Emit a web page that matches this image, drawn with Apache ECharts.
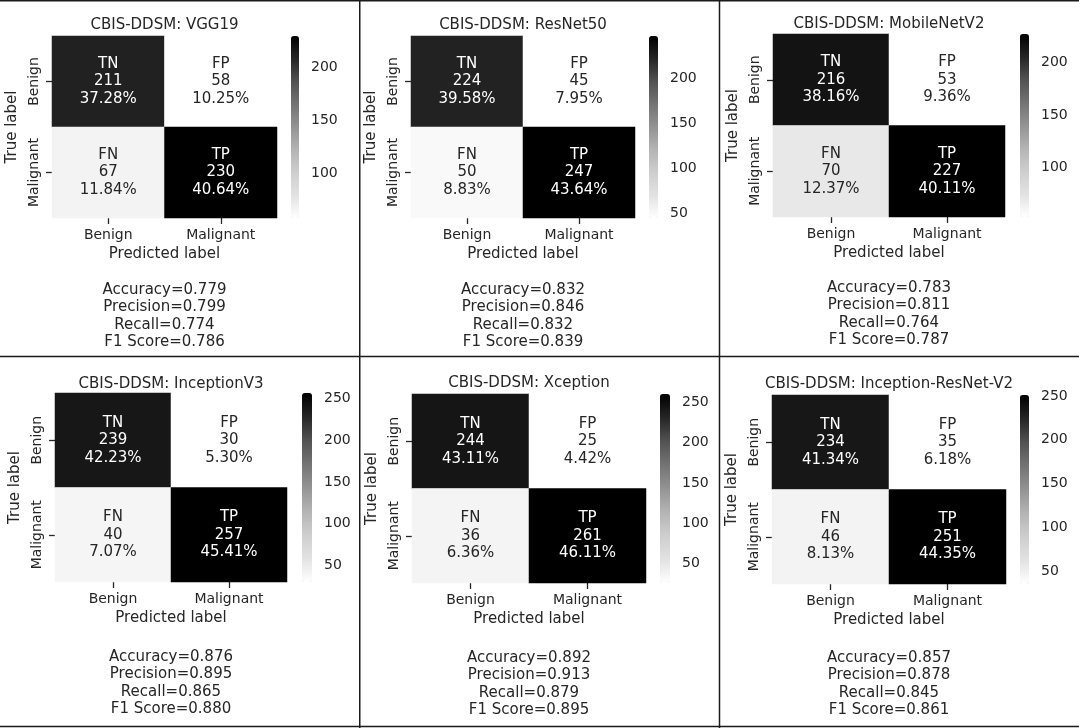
<!DOCTYPE html>
<html>
<head>
<meta charset="utf-8">
<title>CBIS-DDSM confusion matrices</title>
<script src="https://cdn.jsdelivr.net/npm/echarts@6/dist/echarts.min.js"></script>
<style>
  html, body { margin: 0; padding: 0; background: #fff; }
  #chart { width: 1079px; height: 728px; }
</style>
</head>
<body>
<div id="chart"></div>
<script>
// ---- data ----
const models = ['VGG19', 'ResNet50', 'MobileNetV2', 'InceptionV3', 'Xception', 'Inception-ResNet-V2']
const xLabels = ['Benign', 'Malignant']
const yLabels = ['Benign', 'Malignant']

const tn = [211, 224, 216, 239, 244, 234]
const fp = [58, 45, 53, 30, 25, 35]
const fn = [67, 50, 70, 40, 36, 46]
const tp = [230, 247, 227, 257, 261, 251]

const tnPct = ['37.28', '39.58', '38.16', '42.23', '43.11', '41.34']
const fpPct = ['10.25', '7.95', '9.36', '5.30', '4.42', '6.18']
const fnPct = ['11.84', '8.83', '12.37', '7.07', '6.36', '8.13']
const tpPct = ['40.64', '43.64', '40.11', '45.41', '46.11', '44.35']

const accuracy = [0.779, 0.832, 0.783, 0.876, 0.892, 0.857]
const precision = [0.799, 0.846, 0.811, 0.895, 0.913, 0.878]
const recall = [0.774, 0.832, 0.764, 0.865, 0.879, 0.845]
const f1 = [0.786, 0.839, 0.787, 0.880, 0.895, 0.861]

const cbTicks = [
  [100, 150, 200],
  [50, 100, 150, 200],
  [100, 150, 200],
  [50, 100, 150, 200, 250],
  [50, 100, 150, 200, 250],
  [50, 100, 150, 200, 250]
]

// ---- styling / layout ----
const FONT = 'DejaVu Sans'
const INK = '#262626'
// grey ramp (white -> black), a touch darker at the light end than plain "Greys"
const greys = ['#ffffff', '#e2e2e2', '#cecece', '#b4b4b4', '#939393', '#737373', '#525252', '#252525', '#000000']

// heatmap box, colourbar box [x, y, w, h], title centre y, metrics top y
const boxes = [
  { hm: [52, 36, 225, 182], cb: [291, 36, 8, 182], ty: 25, my: 281 },
  { hm: [411, 36, 224, 182], cb: [649, 36, 9, 182], ty: 25, my: 281 },
  { hm: [773, 34, 232, 183], cb: [1020, 34, 9, 183], ty: 24, my: 279 },
  { hm: [55, 393, 232, 189], cb: [302, 393, 10, 189], ty: 384, my: 648 },
  { hm: [412, 394, 234, 189], cb: [660, 394, 10, 189], ty: 383, my: 649 },
  { hm: [772, 395, 234, 189], cb: [1020, 395, 9, 189], ty: 384, my: 649 }
]

const chart = echarts.init(document.getElementById('chart'), null, { renderer: 'canvas' })

const grid = []
const xAxis = []
const yAxis = []
const series = []
const visualMap = []
const graphic = []
const cbGrid = []
const cbX = []
const cbY = []

models.forEach((m, i) => {
  const b = boxes[i]
  const vals = [tn[i], fp[i], fn[i], tp[i]]
  const lo = Math.min(...vals)
  const hi = Math.max(...vals)
  const txt = v => ((v - lo) / (hi - lo) > 0.5 ? '#ffffff' : INK)

  const cells = [
    { name: 'TN', value: [0, 0, tn[i]], pct: tnPct[i] },
    { name: 'FP', value: [1, 0, fp[i]], pct: fpPct[i] },
    { name: 'FN', value: [0, 1, fn[i]], pct: fnPct[i] },
    { name: 'TP', value: [1, 1, tp[i]], pct: tpPct[i] }
  ].map(c => Object.assign(c, { label: { color: txt(c.value[2]) } }))

  grid.push({ left: b.hm[0], top: b.hm[1], width: b.hm[2], height: b.hm[3], containLabel: false })
  xAxis.push({
    gridIndex: i,
    type: 'category',
    data: xLabels,
    position: 'bottom',
    axisLine: { show: false },
    axisTick: { show: true, alignWithLabel: true, length: 6, lineStyle: { color: INK, width: 1.3 } },
    axisLabel: { fontFamily: FONT, fontSize: 14, color: INK, margin: 10 },
    splitLine: { show: false },
    name: 'Predicted label',
    nameLocation: 'middle',
    nameGap: 29,
    nameTextStyle: { fontFamily: FONT, fontSize: 15, color: INK }
  })
  yAxis.push({
    gridIndex: i,
    type: 'category',
    data: yLabels,
    inverse: true,
    axisLine: { show: false },
    axisTick: { show: true, alignWithLabel: true, length: 6, lineStyle: { color: INK, width: 1.3 } },
    axisLabel: { fontFamily: FONT, fontSize: 14, color: INK, margin: 11, rotate: 90 },
    splitLine: { show: false },
    name: 'True label',
    nameLocation: 'middle',
    nameRotate: 90,
    nameGap: 32,
    nameTextStyle: { fontFamily: FONT, fontSize: 15, color: INK }
  })
  series.push({
    type: 'heatmap',
    xAxisIndex: i,
    yAxisIndex: i,
    data: cells,
    itemStyle: { borderWidth: 0 },
    emphasis: { disabled: true },
    label: {
      show: true,
      fontFamily: FONT,
      fontSize: 15,
      lineHeight: 17.5,
      formatter: p => p.data.name + '\n' + p.value[2] + '\n' + p.data.pct + '%'
    }
  })
  visualMap.push({
    type: 'continuous',
    seriesIndex: i,
    dimension: 2,
    min: lo,
    max: hi,
    inRange: { color: greys },
    calculable: false,
    hoverLink: false,
    orient: 'vertical',
    left: b.cb[0],
    top: b.cb[1],
    itemWidth: b.cb[2],
    itemHeight: b.cb[3],
    padding: 0
  })

  // colourbar tick axis sits on top of the visualMap bar
  cbGrid.push({ left: b.cb[0], top: b.cb[1], width: b.cb[2], height: b.cb[3], containLabel: false })
  cbX.push({ gridIndex: 6 + i, type: 'value', min: 0, max: 1, show: false })
  cbY.push({
    gridIndex: 6 + i,
    type: 'value',
    min: lo,
    max: hi,
    position: 'right',
    axisLine: { show: false },
    splitLine: { show: false },
    axisTick: { show: true, length: 6, customValues: cbTicks[i], lineStyle: { color: INK, width: 1.3 } },
    axisLabel: { show: true, customValues: cbTicks[i], fontFamily: FONT, fontSize: 14, color: INK, margin: 12 }
  })

  const cx = b.hm[0] + b.hm[2] / 2
  graphic.push({
    type: 'text',
    silent: true,
    x: cx,
    y: b.ty,
    style: { text: 'CBIS-DDSM: ' + m, font: '15px "DejaVu Sans"', fill: INK, align: 'center', verticalAlign: 'middle' }
  })
  const lines = [
    'Accuracy=' + accuracy[i].toFixed(3),
    'Precision=' + precision[i].toFixed(3),
    'Recall=' + recall[i].toFixed(3),
    'F1 Score=' + f1[i].toFixed(3)
  ]
  graphic.push({
    type: 'text',
    silent: true,
    x: cx,
    y: b.my,
    style: { text: lines.join('\n'), font: '15px "DejaVu Sans"', fill: INK, align: 'center', verticalAlign: 'top', lineHeight: 17.5 }
  })
})

// panel frame lines
const frame = [
  [0, 0.75, 1079, 0.75],
  [0, 356.5, 1079, 356.5],
  [0, 726.5, 1079, 726.5],
  [359.75, 0, 359.75, 728],
  [719.5, 0, 719.5, 728]
]
frame.forEach(f => {
  graphic.push({
    type: 'line',
    silent: true,
    shape: { x1: f[0], y1: f[1], x2: f[2], y2: f[3] },
    style: { stroke: '#1a1a1a', lineWidth: 1.5 }
  })
})

const option = {
  backgroundColor: '#ffffff',
  animation: false,
  grid: grid.concat(cbGrid),
  xAxis: xAxis.concat(cbX),
  yAxis: yAxis.concat(cbY),
  visualMap: visualMap,
  series: series,
  graphic: graphic
}
chart.setOption(option)
</script>
</body>
</html>
